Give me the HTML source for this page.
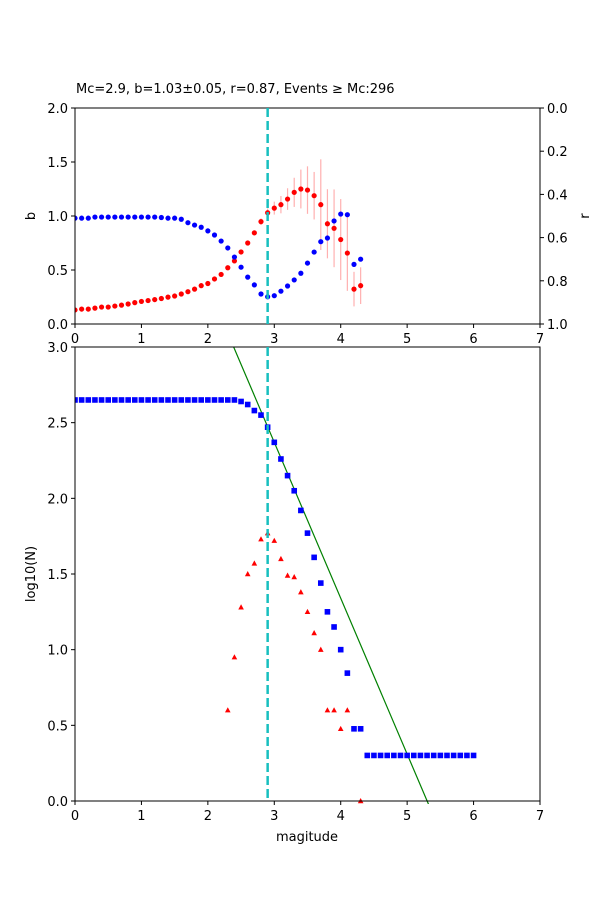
<!DOCTYPE html>
<html><head><meta charset="utf-8"><style>
html,body{margin:0;padding:0;background:#fff;width:600px;height:900px;overflow:hidden}
svg{display:block;font-family:"DejaVu Sans","Liberation Sans",sans-serif}
</style></head><body>
<svg id="c" width="600" height="900" xmlns="http://www.w3.org/2000/svg"></svg>
<script>
const mags = [];
for (let i = 0; i <= 43; i++) mags.push(i / 10);
const bValues = [0.13,0.138,0.138,0.147,0.157,0.157,0.166,0.175,0.185,0.198,0.209,0.217,0.226,0.236,0.249,0.259,0.278,0.299,0.323,0.355,0.375,0.417,0.459,0.521,0.584,0.667,0.75,0.844,0.948,1.03,1.073,1.105,1.157,1.219,1.25,1.24,1.188,1.105,0.928,0.886,0.782,0.657,0.323,0.355];
const bErr = [0,0,0,0,0,0,0,0,0,0,0,0,0,0,0,0,0,0,0,0,0,0,0,0,0,0,0,0.02,0.03,0.04,0.06,0.08,0.1,0.135,0.18,0.22,0.22,0.42,0.32,0.36,0.375,0.35,0.16,0.17];
const rValues = [0.51,0.51,0.51,0.505,0.505,0.505,0.505,0.505,0.505,0.505,0.505,0.505,0.505,0.507,0.51,0.51,0.515,0.531,0.542,0.552,0.569,0.588,0.616,0.648,0.69,0.737,0.783,0.819,0.861,0.874,0.869,0.848,0.824,0.796,0.765,0.718,0.667,0.619,0.602,0.523,0.491,0.494,0.724,0.7];
const cumMags = [];
for (let i = 0; i <= 60; i++) cumMags.push(i / 10);
const cumLogN = [2.65,2.65,2.65,2.65,2.65,2.65,2.65,2.65,2.65,2.65,2.65,2.65,2.65,2.65,2.65,2.65,2.65,2.65,2.65,2.65,2.65,2.65,2.65,2.65,2.65,2.64,2.62,2.58,2.55,2.47,2.37,2.26,2.15,2.05,1.92,1.77,1.61,1.44,1.25,1.15,1.0,0.845,0.477,0.477,0.301,0.301,0.301,0.301,0.301,0.301,0.301,0.301,0.301,0.301,0.301,0.301,0.301,0.301,0.301,0.301,0.301];
const ncMags = [2.3,2.4,2.5,2.6,2.7,2.8,2.9,3.0,3.1,3.2,3.3,3.4,3.5,3.6,3.7,3.8,3.9,4.0,4.1,4.3];
const ncLogN = [0.6,0.95,1.28,1.5,1.57,1.73,1.77,1.72,1.6,1.49,1.48,1.38,1.25,1.11,1.0,0.6,0.6,0.477,0.6,0.0];
const Mc = 2.9, aVal = 5.46, bVal = 1.03;
const xTicks = [0,1,2,3,4,5,6,7];
const bTicks = ["0.0","0.5","1.0","1.5","2.0"];
const rTicks = ["0.0","0.2","0.4","0.6","0.8","1.0"];
const nTicks = ["0.0","0.5","1.0","1.5","2.0","2.5","3.0"];

const svg = document.getElementById('c');
const NS = 'http://www.w3.org/2000/svg';
function mk(tag, attrs, parent) {
  const e = document.createElementNS(NS, tag);
  for (const k in attrs) e.setAttribute(k, attrs[k]);
  (parent || svg).appendChild(e);
  return e;
}
const L = 75, R = 540;
const sx = m => L + m / 7 * (R - L);
const T1 = 108, B1 = 324, T2 = 347, B2 = 801;
const syB = v => B1 - v / 2 * (B1 - T1);
const syR = v => T1 + v * (B1 - T1);
const syN = v => B2 - v / 3 * (B2 - T2);

function txt(x, y, s, anchor, name, rot) {
  const t = mk('text', {x: x, y: y, 'font-size': 13, 'text-anchor': anchor || 'middle', fill: '#000'});
  if (rot) t.setAttribute('transform', 'rotate(-90 ' + x + ' ' + y + ')');
  t.textContent = s;
  
  
  return t;
}

// ---- top plot
const g1 = mk('g', {});


const cp1 = mk('clipPath', {id: 'cp1'}, svg);
mk('rect', {x: L, y: T1, width: R - L, height: B1 - T1}, cp1);
const inner1 = mk('g', {'clip-path': 'url(#cp1)'}, g1);
mags.forEach((m, i) => {
  if (bErr[i] > 0) {
    const l = mk('line', {x1: sx(m), x2: sx(m), y1: syB(bValues[i] - bErr[i]), y2: syB(bValues[i] + bErr[i]), stroke: '#ffb0b0', 'stroke-width': 1.2}, inner1);
    
    
  }
});
mags.forEach((m, i) => {
  const c = mk('circle', {cx: sx(m), cy: syB(bValues[i]), r: 2.6, fill: '#f00'}, inner1);
  
  
});
mags.forEach((m, i) => {
  const c = mk('circle', {cx: sx(m), cy: syR(rValues[i]), r: 2.6, fill: '#00f'}, inner1);
  
  
});
mk('rect', {x: L, y: T1, width: R - L, height: B1 - T1, fill: 'none', stroke: '#000', 'stroke-width': 1}, g1);
xTicks.forEach(v => {
  mk('line', {x1: sx(v), x2: sx(v), y1: B1, y2: B1 + 4, stroke: '#000'}, g1);
  txt(sx(v), B1 + 19, String(v), 'middle', 'top-x-tick-label');
});
bTicks.forEach(s => {
  const y = syB(parseFloat(s));
  mk('line', {x1: L - 4, x2: L, y1: y, y2: y, stroke: '#000'}, g1);
  txt(L - 7, y + 5, s, 'end', 'b-tick-label');
});
rTicks.forEach(s => {
  const y = syR(parseFloat(s));
  mk('line', {x1: R, x2: R + 4, y1: y, y2: y, stroke: '#000'}, g1);
  txt(R + 7, y + 5, s, 'start', 'r-tick-label');
});
txt(35, 216, 'b', 'middle', 'b-axis-title', true);
txt(589, 216, 'r', 'middle', 'r-axis-title', true);
txt(76, 93, 'Mc=2.9, b=1.03±0.05, r=0.87, Events ≥ Mc:296', 'start', 'chart-title');
const d1 = mk('line', {x1: sx(Mc), x2: sx(Mc), y1: T1, y2: B1, stroke: '#17bfbf', 'stroke-width': 2.5, 'stroke-dasharray': '9,4'}, g1);



// ---- bottom plot
const g2 = mk('g', {});


const cp2 = mk('clipPath', {id: 'cp2'}, svg);
mk('rect', {x: L, y: T2, width: R - L, height: B2 - T2 + 3}, cp2);
const inner2 = mk('g', {'clip-path': 'url(#cp2)'}, g2);
const m0 = 0, m1 = 7;
const fit = mk('line', {x1: sx(m0), y1: syN(aVal - bVal * m0), x2: sx(m1), y2: syN(aVal - bVal * m1), stroke: '#008000', 'stroke-width': 1.2}, inner2);


cumMags.forEach((m, i) => {
  const s = mk('rect', {x: sx(m) - 2.8, y: syN(cumLogN[i]) - 2.8, width: 5.6, height: 5.6, fill: '#00f'}, inner2);
  
  
});
ncMags.forEach((m, i) => {
  const x = sx(m), y = syN(ncLogN[i]);
  const p = mk('polygon', {points: (x) + ',' + (y - 3) + ' ' + (x - 2.8) + ',' + (y + 2.2) + ' ' + (x + 2.8) + ',' + (y + 2.2), fill: '#f00'}, inner2);
  
  
});
mk('rect', {x: L, y: T2, width: R - L, height: B2 - T2, fill: 'none', stroke: '#000', 'stroke-width': 1}, g2);
xTicks.forEach(v => {
  mk('line', {x1: sx(v), x2: sx(v), y1: B2, y2: B2 + 4, stroke: '#000'}, g2);
  txt(sx(v), B2 + 19, String(v), 'middle', 'bottom-x-tick-label');
});
nTicks.forEach(s => {
  const y = syN(parseFloat(s));
  mk('line', {x1: L - 4, x2: L, y1: y, y2: y, stroke: '#000'}, g2);
  txt(L - 7, y + 5, s, 'end', 'logn-tick-label');
});
txt(35, 574, 'log10(N)', 'middle', 'logn-axis-title', true);
txt(307, 841, 'magitude', 'middle', 'x-axis-title');
const d2 = mk('line', {x1: sx(Mc), x2: sx(Mc), y1: T2, y2: B2, stroke: '#17bfbf', 'stroke-width': 2.5, 'stroke-dasharray': '9,4'}, g2);


</script>
</body></html>
